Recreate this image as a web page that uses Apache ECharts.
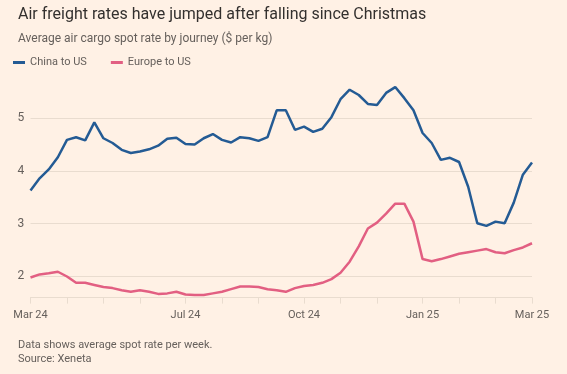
<!DOCTYPE html>
<html><head><meta charset="utf-8">
<script src="https://cdn.jsdelivr.net/npm/echarts@6/dist/echarts.min.js"></script>
<style>html,body{margin:0;padding:0;background:#FFF1E5}#c{width:567px;height:374px}</style>
</head><body><div id="c"></div>
<script>
const weeks = Array.from({length: 56}, (_, i) => 'W' + (i + 1));
const tickLabels = {0: 'Mar 24', 17: 'Jul 24', 30: 'Oct 24', 43: 'Jan 25', 55: 'Mar 25'};
const tickIdx = [0, 4, 8, 12, 17, 21, 25, 30, 34, 38, 43, 47, 51, 55];
const yTicks = [2, 3, 4, 5];
const china = [3.63,3.86,4.03,4.26,4.59,4.64,4.58,4.92,4.62,4.53,4.40,4.34,4.37,4.41,4.48,4.61,4.63,4.51,
  4.50,4.62,4.70,4.59,4.54,4.64,4.62,4.57,4.64,5.15,5.15,4.78,4.84,4.74,4.80,5.02,5.36,5.54,5.44,5.27,5.25,
  5.48,5.59,5.38,5.15,4.72,4.53,4.21,4.25,4.17,3.70,3.01,2.96,3.04,3.01,3.40,3.93,4.16];
const europe = [1.98,2.04,2.06,2.09,2.00,1.88,1.88,1.84,1.80,1.78,1.74,1.71,1.74,1.71,1.67,1.68,1.71,1.66,1.65,1.65,1.68,1.71,1.76,1.81,1.81,1.80,1.76,1.74,1.71,
  1.78,1.82,1.84,1.88,1.95,2.07,2.28,2.57,2.91,3.02,3.19,3.38,3.38,3.04,2.33,2.29,2.33,2.38,2.43,2.46,2.49,2.52,2.46,2.44,2.50,2.55,2.63];

const FONT = 'Roboto';
const chart = echarts.init(document.getElementById('c'), null, {renderer: 'canvas'});
const grid = '#e9dccf';
chart.setOption({
  backgroundColor: '#FFF1E5',
  animation: false,
  textStyle: {fontFamily: FONT},
  title: [
    {text: 'Air freight rates have jumped after falling since Christmas', left: 13, top: 2,
     textStyle: {fontFamily: FONT, fontSize: 16, fontWeight: 'normal', color: '#33302E'}},
    {text: 'Average air cargo spot rate by journey ($ per kg)', left: 13, top: 28,
     textStyle: {fontFamily: FONT, fontSize: 12, fontWeight: 'normal', color: '#66605C'}},
    {text: 'Data shows average spot rate per week.\nSource: Xeneta', left: 13, top: 333,
     textStyle: {fontFamily: FONT, fontSize: 11, fontWeight: 'normal', color: '#66605C', lineHeight: 14}}
  ],
  legend: {
    left: 8, top: 52, icon: 'rect', itemWidth: 12, itemHeight: 3, itemGap: 24,
    textStyle: {fontFamily: FONT, fontSize: 11, color: '#66605C'},
    data: ['China to US', 'Europe to US']
  },
  grid: {left: 30.5, right: 35, top: 76, bottom: 76.4, containLabel: false},
  xAxis: {
    type: 'category', data: weeks, boundaryGap: false,
    axisLine: {show: true, lineStyle: {color: grid, width: 1}},
    axisTick: {show: true, length: 6, interval: (i) => tickIdx.includes(i), lineStyle: {color: grid}},
    axisLabel: {interval: (i) => tickLabels[i] !== undefined, formatter: (v, i) => tickLabels[i] || '',
      color: '#66605C', fontFamily: FONT, fontSize: 11, margin: 12},
    splitLine: {show: false}
  },
  yAxis: {
    type: 'value', min: 1.6, max: 5.8, splitNumber: 4,
    axisLine: {show: false}, axisTick: {show: false},
    axisLabel: {showMinLabel: false, showMaxLabel: false, color: '#66605C', fontFamily: FONT, fontSize: 12,
      align: 'left', margin: 13, formatter: (v) => yTicks.includes(v) ? String(v) : ''},
    splitLine: {show: true, lineStyle: {color: [grid, grid, grid, grid, grid, 'rgba(0,0,0,0)'], width: 1}}
  },
  series: [
    {name: 'China to US', type: 'line', data: china, symbol: 'none', smooth: false,
     lineStyle: {color: '#245B94', width: 2.5}, itemStyle: {color: '#245B94'}},
    {name: 'Europe to US', type: 'line', data: europe, symbol: 'none', smooth: false,
     lineStyle: {color: '#E25F82', width: 2.5}, itemStyle: {color: '#E25F82'}}
  ]
});
</script></body></html>
